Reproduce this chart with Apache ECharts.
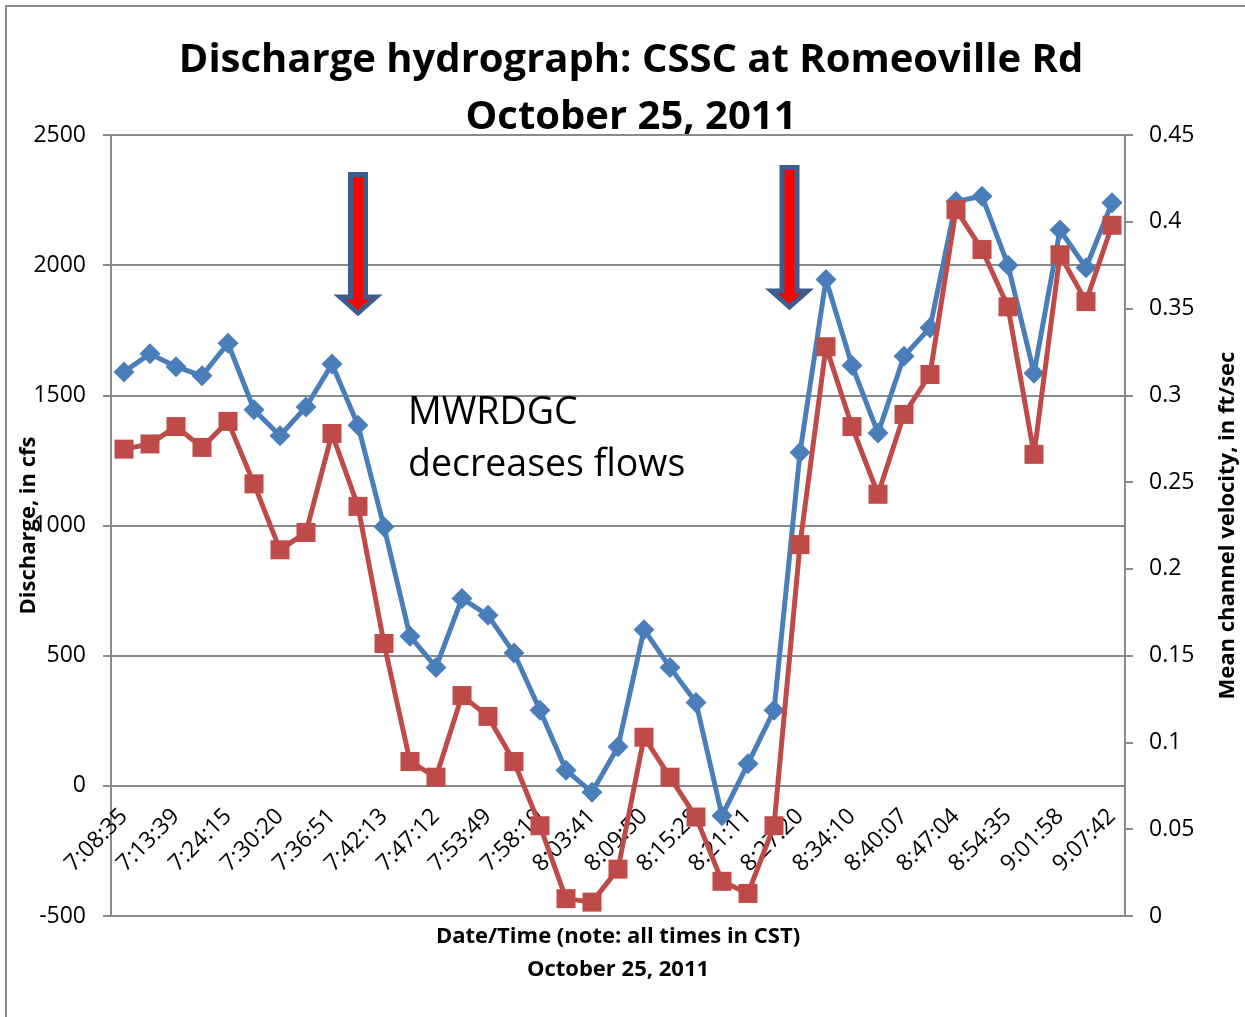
<!DOCTYPE html>
<html>
<head>
<meta charset="utf-8">
<script src="https://cdn.jsdelivr.net/npm/echarts@6/dist/echarts.min.js"></script>
<style>
  html, body { margin: 0; padding: 0; background: #fff; }
  #chart { width: 1245px; height: 1017px; }
</style>
</head>
<body>
<div id="chart"></div>
<script>
// labels shown on the time axis (every other sample)
var shownTimes = ['7:08:35', '7:13:39', '7:24:15', '7:30:20', '7:36:51', '7:42:13', '7:47:12',
    '7:53:49', '7:58:19', '8:03:41', '8:09:50', '8:15:28', '8:21:11', '8:27:20', '8:34:10',
    '8:40:07', '8:47:04', '8:54:35', '9:01:58', '9:07:42'];

// discharge, cfs (left axis)
var discharge = [1590, 1660, 1610, 1575, 1700, 1445, 1345, 1455, 1620, 1385,
    995, 575, 455, 720, 655, 510, 290, 60, -25, 150,
    600, 455, 320, -115, 85, 290, 1280, 1945, 1615, 1355,
    1650, 1760, 2245, 2265, 2000, 1585, 2135, 1990, 2240];

// mean channel velocity, ft/sec (right axis)
var velocity = [0.269, 0.272, 0.282, 0.270, 0.285, 0.249, 0.211, 0.221, 0.278, 0.236,
    0.157, 0.089, 0.080, 0.127, 0.115, 0.089, 0.052, 0.010, 0.008, 0.027,
    0.103, 0.080, 0.057, 0.020, 0.013, 0.052, 0.214, 0.328, 0.282, 0.243,
    0.289, 0.312, 0.407, 0.384, 0.351, 0.266, 0.381, 0.354, 0.398];

var categories = [];
for (var i = 0; i < discharge.length; i++) {
    categories.push(i % 2 === 0 ? shownTimes[i / 2] : '');
}

var myChart = echarts.init(document.getElementById('chart'));
var font = 'Open Sans';
var gray = '#8a8a8a';

// plot box
var gridTop = 135, gridBottom = 101;
var qMin = -500, qMax = 2500;
var plotH = 1017 - gridTop - gridBottom;
// time axis sits on the zero line of the discharge axis
var xOffset = -plotH * (0 - qMin) / (qMax - qMin);

function arrow(pts) {
    return {
        type: 'polygon',
        shape: { points: pts },
        style: { fill: '#ff0000', stroke: '#3c5d8c', lineWidth: 5, lineJoin: 'miter' },
        z: 10
    };
}

var option = {
    backgroundColor: '#fff',
    animation: false,
    title: {
        text: 'Discharge hydrograph: CSSC at Romeoville Rd\nOctober 25, 2011',
        left: 626,
        top: 27,
        textAlign: 'center',
        textStyle: { fontFamily: font, fontSize: 40, fontWeight: 'bold', color: '#000', lineHeight: 57 }
    },
    grid: { left: 111, right: 120, top: gridTop, bottom: gridBottom, containLabel: false, outerBoundsMode: 'none' },
    xAxis: {
        type: 'category',
        data: categories,
        boundaryGap: true,
        offset: xOffset,
        axisLine: { onZero: false, lineStyle: { color: gray, width: 2 } },
        axisTick: { interval: 0, length: 8, lineStyle: { color: gray, width: 2 } },
        axisLabel: { interval: 0, rotate: 45, margin: 27, fontFamily: font, fontSize: 23, color: '#000' },
        splitLine: { show: false }
    },
    yAxis: [
        {
            type: 'value',
            min: qMin,
            max: qMax,
            interval: 500,
            name: 'Discharge, in cfs',
            nameLocation: 'middle',
            nameRotate: 90,
            nameGap: 71,
            nameMoveOverlap: false,
            nameTextStyle: { fontFamily: font, fontSize: 22, fontWeight: 'bold', color: '#000' },
            axisLine: { show: true, onZero: false, lineStyle: { color: gray, width: 2 } },
            axisTick: { show: true, length: 8, lineStyle: { color: gray, width: 2 } },
            axisLabel: {
                margin: 25, fontFamily: font, fontSize: 23, color: '#000',
                formatter: function (v) { return String(v); }
            },
            splitLine: { lineStyle: { color: gray, width: 2 } }
        },
        {
            type: 'value',
            min: 0,
            max: 0.45,
            interval: 0.05,
            position: 'right',
            name: 'Mean channel velocity, in ft/sec',
            nameLocation: 'middle',
            nameRotate: 90,
            nameGap: 92,
            nameMoveOverlap: false,
            nameTextStyle: { fontFamily: font, fontSize: 22, fontWeight: 'bold', color: '#000' },
            axisLine: { show: true, onZero: false, lineStyle: { color: gray, width: 2 } },
            axisTick: { show: true, length: 8, lineStyle: { color: gray, width: 2 } },
            axisLabel: { margin: 24, fontFamily: font, fontSize: 23, color: '#000' },
            splitLine: { show: false }
        }
    ],
    series: [
        {
            name: 'Discharge',
            type: 'line',
            yAxisIndex: 0,
            data: discharge,
            symbol: 'diamond',
            symbolSize: 21,
            color: '#4a7ebb',
            lineStyle: { width: 5, color: '#4a7ebb' },
            itemStyle: { color: '#4a7ebb' },
            z: 3
        },
        {
            name: 'Velocity',
            type: 'line',
            yAxisIndex: 1,
            data: velocity,
            symbol: 'rect',
            symbolSize: 19,
            color: '#be4b48',
            lineStyle: { width: 5, color: '#be4b48' },
            itemStyle: { color: '#be4b48' },
            z: 4
        }
    ],
    graphic: [
        {
            type: 'rect',
            shape: { x: 6, y: 6, width: 1300, height: 1100 },
            style: { fill: 'none', stroke: gray, lineWidth: 2 },
            silent: true,
            z: -1
        },
        arrow([[350.5, 174.5], [365.5, 174.5], [365.5, 297], [376, 297], [358, 313], [340, 297], [350.5, 297]]),
        arrow([[782, 167.5], [797, 167.5], [797, 291], [807.5, 291], [789.5, 307], [771.5, 291], [782, 291]]),
        {
            type: 'text',
            left: 408,
            top: 387,
            style: {
                text: 'MWRDGC\ndecreases flows',
                fontFamily: font, fontSize: 37.5, lineHeight: 52, fill: '#000'
            },
            z: 10
        },
        {
            type: 'text',
            x: 618,
            y: 953,
            style: {
                text: 'Date/Time (note: all times in CST)\nOctober 25, 2011',
                fontFamily: font, fontSize: 22, fontWeight: 'bold', lineHeight: 33,
                fill: '#000', align: 'center', verticalAlign: 'middle'
            }
        }
    ]
};

option && myChart.setOption(option);
</script>
</body>
</html>
